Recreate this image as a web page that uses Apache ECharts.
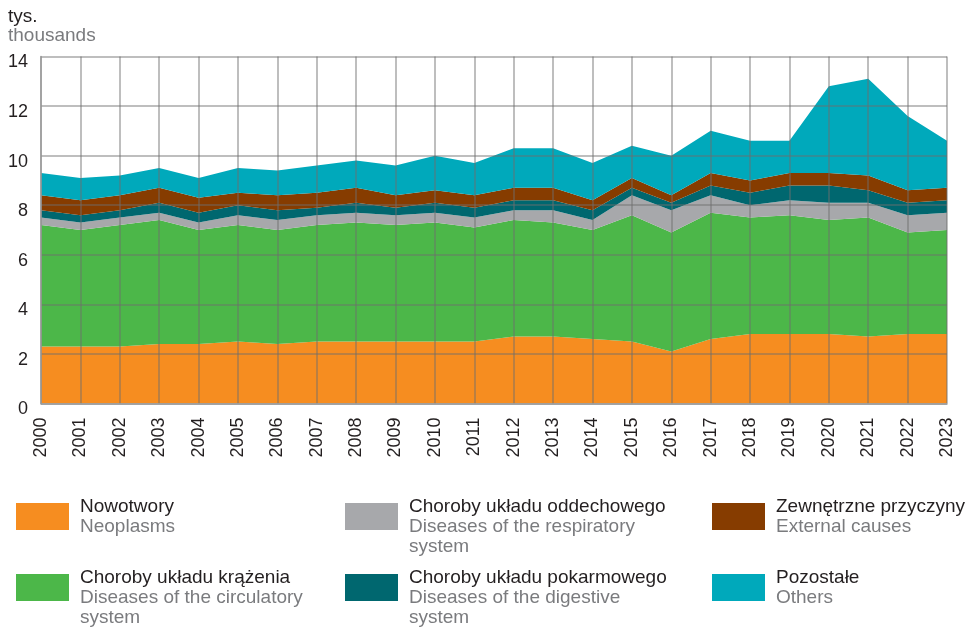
<!DOCTYPE html>
<html>
<head>
<meta charset="utf-8">
<script src="https://cdn.jsdelivr.net/npm/echarts@6/dist/echarts.min.js"></script>
<style>
html,body{margin:0;padding:0;background:#fff;}
#chart{width:973px;height:629px;}
</style>
</head>
<body>
<div id="chart"></div>
<script>
const years = ['2000','2001','2002','2003','2004','2005','2006','2007','2008','2009','2010','2011','2012','2013','2014','2015','2016','2017','2018','2019','2020','2021','2022','2023'];
const yTicks = [0, 2, 4, 6, 8, 10, 12, 14];

const neoplasms   = [2.3,2.3,2.3,2.4,2.4,2.5,2.4,2.5,2.5,2.5,2.5,2.5,2.7,2.7,2.6,2.5,2.1,2.6,2.8,2.8,2.8,2.7,2.8,2.8];
const circulatory = [4.9,4.7,4.9,5.0,4.6,4.7,4.6,4.7,4.8,4.7,4.8,4.6,4.7,4.6,4.4,5.1,4.8,5.1,4.7,4.8,4.6,4.8,4.1,4.2];
const respiratory = [0.3,0.3,0.3,0.3,0.3,0.4,0.4,0.4,0.4,0.4,0.4,0.4,0.4,0.5,0.4,0.8,0.9,0.7,0.5,0.6,0.7,0.6,0.7,0.7];
const digestive   = [0.3,0.3,0.3,0.4,0.4,0.4,0.4,0.3,0.4,0.3,0.4,0.4,0.4,0.4,0.4,0.3,0.3,0.4,0.5,0.6,0.7,0.5,0.5,0.5];
const external    = [0.6,0.6,0.6,0.6,0.6,0.5,0.6,0.6,0.6,0.5,0.5,0.5,0.5,0.5,0.4,0.4,0.3,0.5,0.5,0.5,0.5,0.6,0.5,0.5];
const others      = [0.9,0.9,0.8,0.8,0.8,1.0,1.0,1.1,1.1,1.2,1.4,1.3,1.6,1.6,1.5,1.3,1.6,1.7,1.6,1.3,3.5,3.9,3.0,1.9];

const seriesNamesPL = ['Nowotwory','Choroby układu krążenia','Choroby układu oddechowego','Choroby układu pokarmowego','Zewnętrzne przyczyny','Pozostałe'];
const seriesNamesEN = [['Neoplasms'],['Diseases of the circulatory','system'],['Diseases of the respiratory','system'],['Diseases of the digestive','system'],['External causes'],['Others']];
const seriesData = [neoplasms, circulatory, respiratory, digestive, external, others];
const colors = ['#F68D20','#4CB749','#A7A8AB','#00676F','#863C00','#00A9BB'];

const FONT = '"Liberation Sans", Arial, sans-serif';
const DARK = '#231F20';
const GREY = '#7A7B7E';

const chart = echarts.init(document.getElementById('chart'), null, {renderer:'canvas'});

const series = seriesData.map((d, i) => ({
  name: seriesNamesPL[i],
  type: 'line',
  stack: 'total',
  data: d,
  symbol: 'none',
  silent: true,
  lineStyle: {width: 0, color: colors[i]},
  itemStyle: {color: colors[i]},
  areaStyle: {color: colors[i], opacity: 1},
  z: 2
}));

// Legend (graphic) positions: 3 columns x 2 rows, column-major
const legendCols = [16, 345, 712];
const legendRows = [503, 574];
const textOffset = 64;
const graphics = [
  {type:'text', left: 8, top: 7, style:{text:'tys.', fill: DARK, font: '19px ' + FONT}},
  {type:'text', left: 8, top: 26, style:{text:'thousands', fill: GREY, font: '19px ' + FONT}}
];
seriesNamesPL.forEach((name, i) => {
  const col = Math.floor(i / 2), row = i % 2;
  const x = legendCols[col], y = legendRows[row];
  graphics.push({type:'rect', shape:{x: x, y: y, width: 53, height: 27}, style:{fill: colors[i]}, silent:true});
  graphics.push({type:'text', x: x + textOffset, y: y + 3.5, style:{text: name, fill: DARK, font: '19px ' + FONT, textVerticalAlign:'middle'}});
  seriesNamesEN[i].forEach((line, k) => {
    graphics.push({type:'text', x: x + textOffset, y: y + 3.5 + 20 * (k + 1), style:{text: line, fill: GREY, font: '19px ' + FONT, textVerticalAlign:'middle'}});
  });
});

chart.setOption({
  animation: false,
  backgroundColor: '#fff',
  grid: {left: 41, right: 26, top: 56.5, bottom: 225.5, containLabel: false},
  xAxis: {
    type: 'category',
    data: years,
    boundaryGap: false,
    z: 5,
    axisLine: {show: true, lineStyle: {color: '#9A9A9A', width: 1.5}},
    axisTick: {show: false},
    axisLabel: {rotate: 90, margin: 14, color: DARK, fontSize: 18, fontFamily: FONT},
    splitLine: {show: true, lineStyle: {color: 'rgba(110,110,110,0.6)', width: 1.5}}
  },
  yAxis: {
    type: 'value',
    min: yTicks[0],
    max: yTicks[yTicks.length - 1],
    interval: 2,
    z: 5,
    axisLine: {show: true, lineStyle: {color: '#9A9A9A', width: 1.5}},
    axisTick: {show: false},
    axisLabel: {margin: 13, color: DARK, fontSize: 18, fontFamily: FONT, verticalAlign: 'top', lineHeight: 12},
    splitLine: {show: true, lineStyle: {color: 'rgba(110,110,110,0.6)', width: 1.5}}
  },
  series: series,
  graphic: graphics
});
</script>
</body>
</html>
